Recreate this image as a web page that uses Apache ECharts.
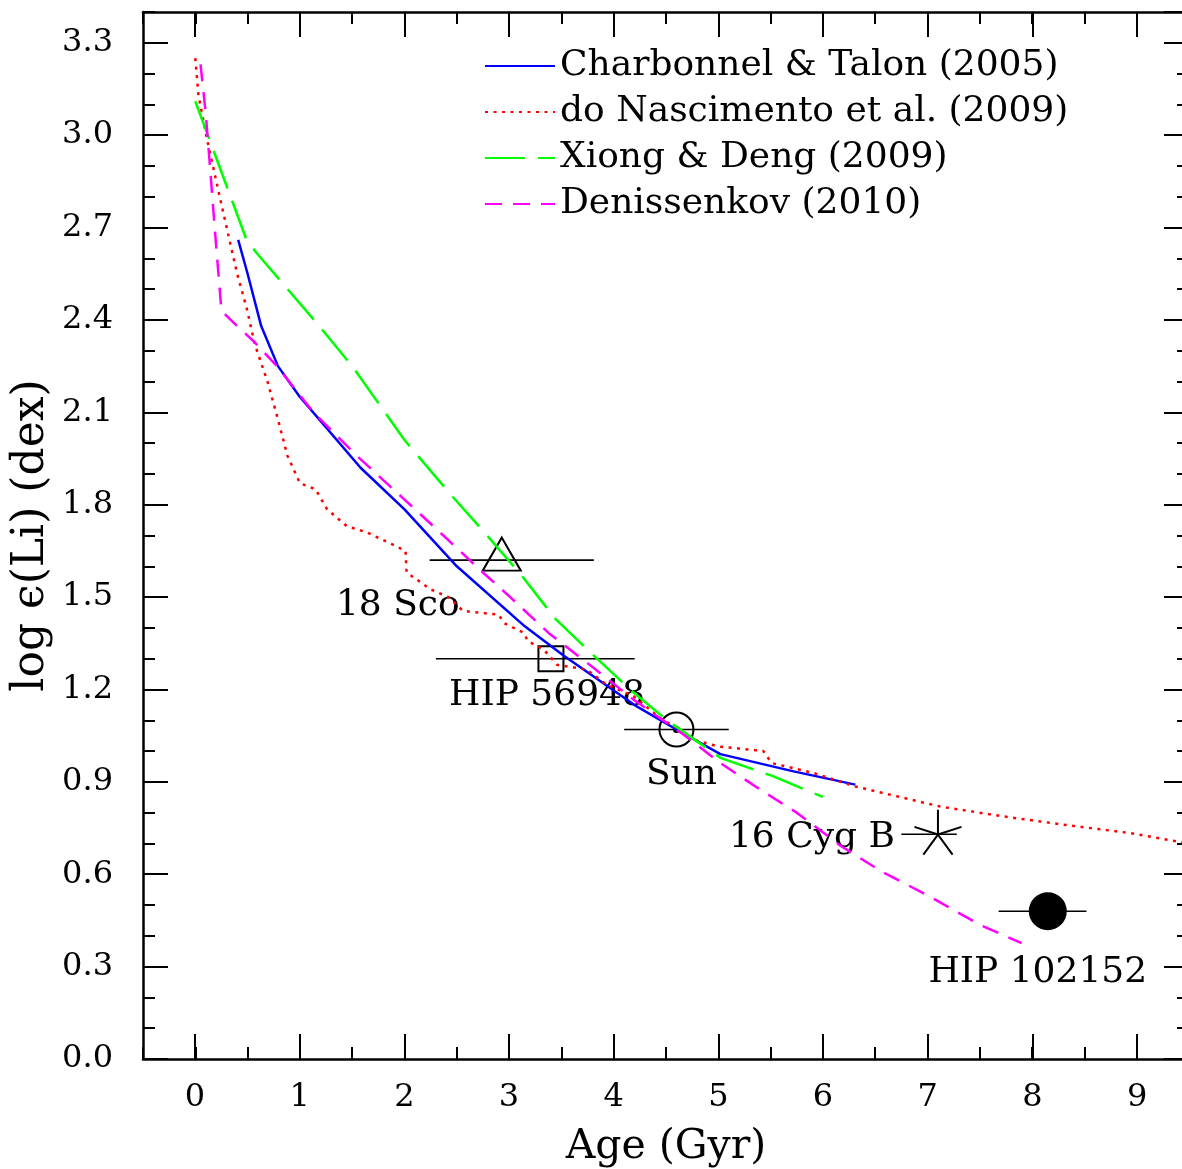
<!DOCTYPE html>
<html>
<head>
<meta charset="utf-8">
<script src="https://cdn.jsdelivr.net/npm/echarts@6/dist/echarts.min.js"></script>
<style>
html, body { margin: 0; padding: 0; background: #fff; }
#chart { width: 1182px; height: 1169px; }
</style>
</head>
<body>
<div id="chart"></div>
<script>
// model curves: [age (Gyr), log eps(Li)]
const charbonnel = [
    [0.41, 2.66], [0.50, 2.55], [0.63, 2.38], [0.79, 2.25], [1.0, 2.15],
    [1.58, 1.92], [2.0, 1.785], [2.5, 1.60], [3.15, 1.405], [3.52, 1.31],
    [4.22, 1.145], [4.6, 1.07], [5.02, 0.99], [5.72, 0.934], [6.31, 0.891]
];
const nascimento = [
    [0, 3.25], [0.03, 3.13], [0.11, 2.99], [0.24, 2.79], [0.32, 2.67],
    [0.40, 2.55], [0.49, 2.44], [0.57, 2.32], [0.69, 2.20], [0.78, 2.09],
    [0.88, 1.96], [1.0, 1.87], [1.15, 1.85], [1.26, 1.785], [1.45, 1.73],
    [1.64, 1.71], [1.89, 1.67], [2.01, 1.65], [2.02, 1.58], [2.25, 1.525],
    [2.42, 1.50], [2.56, 1.455], [2.90, 1.443], [2.95, 1.416], [3.14, 1.384],
    [3.18, 1.357], [3.33, 1.33], [3.46, 1.28], [3.74, 1.265], [3.93, 1.216],
    [4.19, 1.178], [4.44, 1.108], [4.63, 1.07], [4.76, 1.037], [5.0, 1.015],
    [5.43, 1.0], [5.51, 0.961], [5.91, 0.929], [6.31, 0.885], [7.12, 0.82],
    [7.72, 0.788], [8.30, 0.761], [8.93, 0.734], [9.5, 0.70]
];
const xiong = [
    [0, 3.11], [0.49, 2.66], [0.58, 2.62], [1.16, 2.39], [1.5, 2.25],
    [2.0, 2.01], [2.45, 1.83], [2.79, 1.70], [3.12, 1.57], [3.44, 1.43],
    [3.81, 1.31], [4.19, 1.19], [4.51, 1.10], [5.02, 0.978], [5.51, 0.92],
    [6.0, 0.851]
];
const denissenkov = [
    [0.05, 3.23], [0.10, 3.07], [0.14, 2.90], [0.19, 2.68], [0.25, 2.43],
    [0.37, 2.39], [0.56, 2.33], [0.78, 2.25], [1.13, 2.10], [1.54, 1.96],
    [1.99, 1.82], [2.34, 1.71], [2.75, 1.58], [3.01, 1.50], [3.39, 1.38],
    [3.79, 1.275], [4.19, 1.167], [4.67, 1.053], [5.02, 0.961], [5.40, 0.875],
    [5.75, 0.80], [6.18, 0.69], [6.56, 0.609], [7.02, 0.528], [7.50, 0.436],
    [7.90, 0.376]
];

// observed stars
const starNames = ['18 Sco', 'HIP 56948', 'Sun', '16 Cyg B', 'HIP 102152'];
const starAge = [2.93, 3.40, 4.60, 7.10, 8.15];
const starAgeLo = [2.24, 2.30, 4.10, 6.75, 7.68];
const starAgeHi = [3.81, 4.20, 5.10, 7.28, 8.52];
const starLi = [1.62, 1.30, 1.07, 0.73, 0.48];

const seriesNames = [
    'Charbonnel & Talon (2005)',
    'do Nascimento et al. (2009)',
    'Xiong & Deng (2009)',
    'Denissenkov (2010)'
];

const FONT = 'DejaVu Serif';
const hollow = { color: 'rgba(0,0,0,0)', borderColor: '#000', borderWidth: 2, opacity: 1 };
const asterisk = 'path://M0,-100L0,0M95,-31L0,0M-95,-31L0,0M59,81L0,0M-59,81L0,0';
const markerStyle = [
    { symbol: 'triangle', symbolSize: [38, 33], symbolOffset: [0, -6], itemStyle: hollow },
    { symbol: 'rect', symbolSize: 25, itemStyle: hollow },
    { symbol: 'circle', symbolSize: 34, itemStyle: hollow },
    { symbol: asterisk, symbolSize: 47, symbolOffset: [0, -2], itemStyle: hollow },
    { symbol: 'circle', symbolSize: 38, itemStyle: { color: '#000', opacity: 1 } }
];
const labelOffset = [[-104, 46], [-4, 37], [5, 45], [-126, 3], [-10, 61]];

const chart = echarts.init(document.getElementById('chart'));

const frame = { onZero: false, lineStyle: { color: '#000', width: 2.5 } };
function shortTicks(extra) {
    return Object.assign({
        type: 'value',
        axisLine: frame,
        axisTick: { inside: true, length: 12, lineStyle: { color: '#000', width: 2 } },
        axisLabel: { show: false },
        splitLine: { show: false }
    }, extra);
}
function longTicks(extra) {
    return Object.assign({
        type: 'value',
        axisLine: { show: false, onZero: false },
        axisTick: { inside: true, length: 25, lineStyle: { color: '#000', width: 2 } },
        axisLabel: { show: false },
        splitLine: { show: false }
    }, extra);
}

function lineSeries(name, data, color, dash) {
    return {
        name: name,
        type: 'line',
        data: data,
        xAxisIndex: 0,
        yAxisIndex: 0,
        showSymbol: false,
        symbol: 'none',
        smooth: false,
        lineStyle: { color: color, width: 2.5, type: dash },
        itemStyle: { color: color }
    };
}

chart.setOption({
    animation: false,
    backgroundColor: '#fff',
    grid: [
        { left: 143, top: 12, width: 1046, height: 1047, outerBoundsMode: 'none', containLabel: false },
        { left: 195, top: 12, width: 994.4, height: 1047, outerBoundsMode: 'none', containLabel: false },
        { left: 143, top: 12, width: 1046, height: 1047, outerBoundsMode: 'none', containLabel: false }
    ],
    xAxis: [
        shortTicks({
            gridIndex: 0, position: 'bottom', min: -0.5, max: 9.5, interval: 0.5,
            name: 'Age (Gyr)', nameLocation: 'middle', nameGap: 68,
            nameTextStyle: { fontFamily: FONT, fontSize: 41, color: '#000' }
        }),
        shortTicks({ gridIndex: 0, position: 'top', min: -0.5, max: 9.5, interval: 0.5 }),
        longTicks({
            gridIndex: 1, position: 'bottom', min: 0, max: 9.5, interval: 1,
            axisLabel: {
                show: true, margin: 23, showMaxLabel: false,
                fontFamily: FONT, fontSize: 32, color: '#000'
            }
        }),
        longTicks({ gridIndex: 1, position: 'top', min: 0, max: 9.5, interval: 1 }),
        { type: 'value', gridIndex: 2, min: -0.5, max: 9.5, show: false, axisLine: { onZero: false } }
    ],
    yAxis: [
        shortTicks({
            gridIndex: 0, position: 'left', min: 0, max: 3.4, interval: 0.1,
            name: 'log \u03f5(Li) (dex)', nameLocation: 'middle', nameGap: 89,
            nameTextStyle: { fontFamily: FONT, fontSize: 44, color: '#000' }
        }),
        shortTicks({ gridIndex: 0, position: 'right', min: 0, max: 3.4, interval: 0.1 }),
        { type: 'value', gridIndex: 1, min: 0, max: 3.4, show: false, axisLine: { onZero: false } },
        longTicks({
            gridIndex: 2, position: 'left', min: 0, max: 3.4, interval: 0.3,
            axisLabel: {
                show: true, margin: 30, showMaxLabel: false,
                fontFamily: FONT, fontSize: 32, color: '#000',
                formatter: function (v) { return v.toFixed(1); }
            }
        }),
        longTicks({ gridIndex: 2, position: 'right', min: 0, max: 3.4, interval: 0.3 })
    ],
    legend: {
        data: seriesNames,
        orient: 'vertical',
        left: 479,
        top: 43,
        itemWidth: 70,
        itemHeight: 2,
        itemGap: 10,
        selectedMode: false,
        textStyle: { fontFamily: FONT, fontSize: 36, color: '#000' }
    },
    series: [
        lineSeries(seriesNames[0], charbonnel, '#0000ff', 'solid'),
        lineSeries(seriesNames[1], nascimento, '#ff0000', [3, 5.5]),
        lineSeries(seriesNames[2], xiong, '#00ff00', [40, 13]),
        lineSeries(seriesNames[3], denissenkov, '#ff00ff', [17, 11]),
        {
            type: 'custom',
            xAxisIndex: 0,
            yAxisIndex: 0,
            data: starNames.map((n, i) => [starAgeLo[i], starAgeHi[i], starLi[i], starAge[i]]),
            renderItem: function (params, api) {
                const i = params.dataIndex;
                const lo = api.coord([api.value(0), api.value(2)]);
                const hi = api.coord([api.value(1), api.value(2)]);
                const c = api.coord([api.value(3), api.value(2)]);
                return {
                    type: 'group',
                    children: [
                        {
                            type: 'line',
                            shape: { x1: lo[0], y1: lo[1], x2: hi[0], y2: hi[1] },
                            style: { stroke: '#000', lineWidth: 1.6 }
                        },
                        {
                            type: 'text',
                            x: c[0] + labelOffset[i][0],
                            y: c[1] + labelOffset[i][1],
                            style: {
                                text: starNames[i], fontFamily: FONT, fontSize: 36,
                                fill: '#000', align: 'center', verticalAlign: 'middle'
                            }
                        }
                    ]
                };
            }
        },
        {
            type: 'scatter',
            xAxisIndex: 0,
            yAxisIndex: 0,
            symbolKeepAspect: true,
            data: starNames.map((n, i) => Object.assign({ name: n, value: [starAge[i], starLi[i]] }, markerStyle[i]))
        },
        {
            // dot in the middle of the solar symbol
            type: 'scatter',
            xAxisIndex: 0,
            yAxisIndex: 0,
            symbol: 'circle',
            symbolSize: 7,
            itemStyle: { color: '#000', opacity: 1 },
            data: [[starAge[2], starLi[2]]]
        }
    ]
});
</script>
</body>
</html>
